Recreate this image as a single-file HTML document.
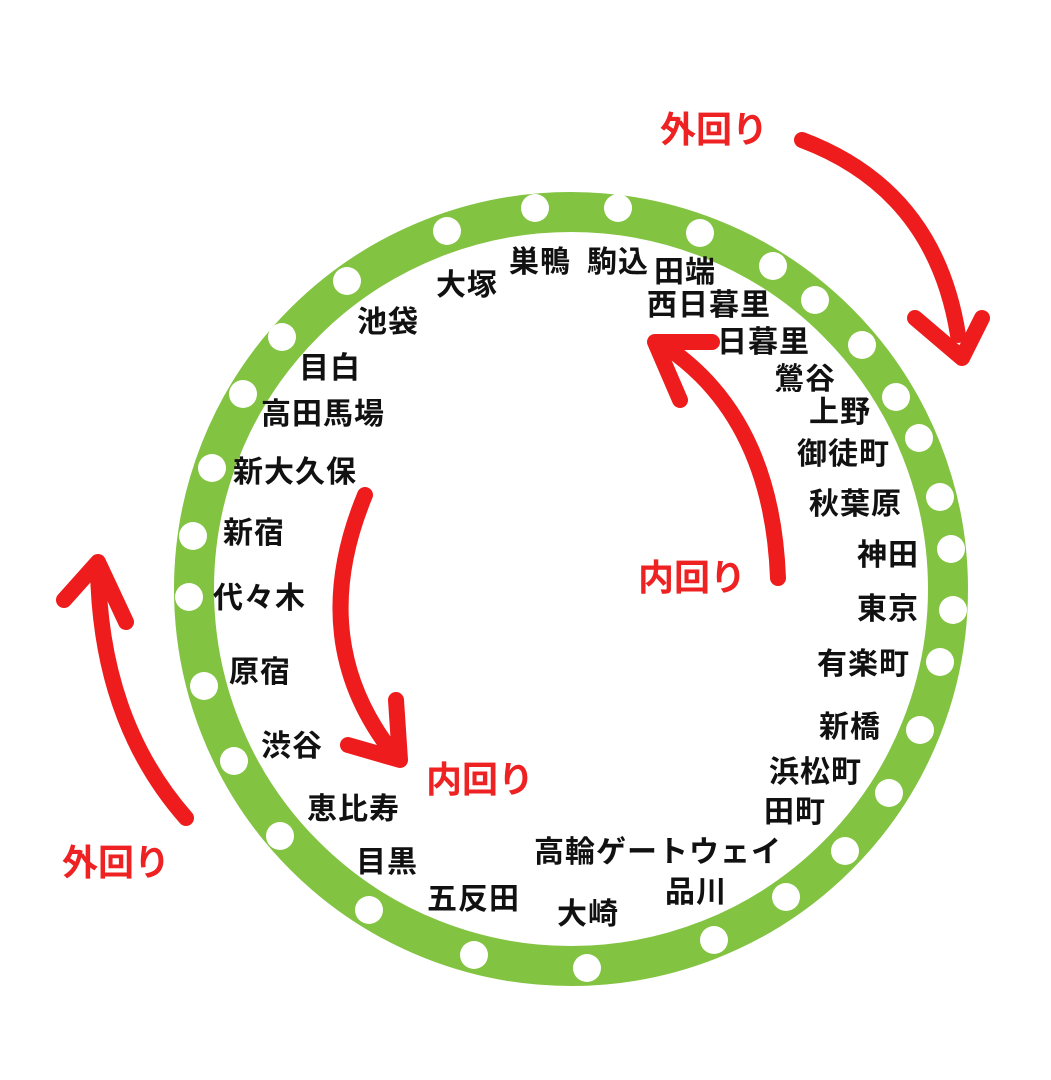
<!DOCTYPE html>
<html><head><meta charset="utf-8"><style>
body{margin:0;width:1051px;height:1080px;background:#fff;position:relative;overflow:hidden;font-family:"Liberation Sans","Noto Sans CJK JP",sans-serif}
.s{position:absolute;font-size:30px;font-weight:bold;color:#111;line-height:1;white-space:nowrap;letter-spacing:1px}
.r{position:absolute;font-size:36px;font-weight:bold;color:#ee2222;line-height:1;white-space:nowrap}
svg{position:absolute;left:0;top:0}
</style></head><body>
<svg width="1051" height="1080">
<circle cx="571" cy="589" r="377" fill="none" stroke="#82c341" stroke-width="40"/>
<g fill="#fff">
<circle cx="535" cy="208" r="14"/><circle cx="618" cy="208" r="14"/><circle cx="700" cy="233" r="14"/><circle cx="773" cy="266" r="14"/><circle cx="815" cy="300" r="14"/><circle cx="862" cy="345" r="14"/><circle cx="896" cy="397" r="14"/><circle cx="919" cy="438" r="14"/><circle cx="940" cy="497" r="14"/><circle cx="951" cy="549" r="14"/><circle cx="953" cy="610" r="14"/><circle cx="940" cy="662" r="14"/><circle cx="920" cy="730" r="14"/><circle cx="889" cy="793" r="14"/><circle cx="845" cy="851" r="14"/><circle cx="786" cy="897" r="14"/><circle cx="714" cy="940" r="14"/><circle cx="587" cy="968" r="14"/><circle cx="474" cy="955" r="14"/><circle cx="369" cy="910" r="14"/><circle cx="280" cy="836" r="14"/><circle cx="234" cy="761" r="14"/><circle cx="204" cy="686" r="14"/><circle cx="189" cy="597" r="14"/><circle cx="193" cy="536" r="14"/><circle cx="212" cy="468" r="14"/><circle cx="243" cy="394" r="14"/><circle cx="282" cy="337" r="14"/><circle cx="347" cy="281" r="14"/><circle cx="447" cy="231" r="14"/>
</g>
<g fill="none" stroke="#ee1c1c" stroke-width="16" stroke-linecap="round" stroke-linejoin="round">
<path d="M802,140 Q935,190 958,335"/><polyline points="915,318 962,358 982,318"/>
<path d="M778,578 Q772,420 668,348"/><polyline points="680,400 655,342 712,342"/>
<path d="M365,495 Q305,640 392,752"/><polyline points="348,745 400,760 396,700"/>
<path d="M186,818 Q100,720 98,568"/><polyline points="64,600 98,562 126,622"/>
</g>
</svg>
<div class="r" style="left:660px;top:112px">外回り</div>
<div class="r" style="left:638px;top:560px">内回り</div>
<div class="r" style="left:426px;top:762px">内回り</div>
<div class="r" style="left:62px;top:845px">外回り</div>
<div class="s" style="left:509px;top:248px">巣鴨</div>
<div class="s" style="left:587px;top:248px">駒込</div>
<div class="s" style="left:654px;top:258px">田端</div>
<div class="s" style="left:647px;top:291px">西日暮里</div>
<div class="s" style="left:717px;top:328px">日暮里</div>
<div class="s" style="left:774px;top:365px">鶯谷</div>
<div class="s" style="left:809px;top:398px">上野</div>
<div class="s" style="left:797px;top:440px">御徒町</div>
<div class="s" style="left:809px;top:490px">秋葉原</div>
<div class="s" style="left:857px;top:541px">神田</div>
<div class="s" style="left:857px;top:595px">東京</div>
<div class="s" style="left:817px;top:650px">有楽町</div>
<div class="s" style="left:819px;top:713px">新橋</div>
<div class="s" style="left:769px;top:758px">浜松町</div>
<div class="s" style="left:764px;top:798px">田町</div>
<div class="s" style="left:534px;top:838px">高輪ゲートウェイ</div>
<div class="s" style="left:665px;top:878px">品川</div>
<div class="s" style="left:557px;top:900px">大崎</div>
<div class="s" style="left:427px;top:885px">五反田</div>
<div class="s" style="left:356px;top:848px">目黒</div>
<div class="s" style="left:307px;top:795px">恵比寿</div>
<div class="s" style="left:261px;top:732px">渋谷</div>
<div class="s" style="left:229px;top:658px">原宿</div>
<div class="s" style="left:213px;top:584px">代々木</div>
<div class="s" style="left:223px;top:519px">新宿</div>
<div class="s" style="left:233px;top:458px">新大久保</div>
<div class="s" style="left:261px;top:400px">高田馬場</div>
<div class="s" style="left:299px;top:354px">目白</div>
<div class="s" style="left:357px;top:308px">池袋</div>
<div class="s" style="left:436px;top:271px">大塚</div>
</body></html>
